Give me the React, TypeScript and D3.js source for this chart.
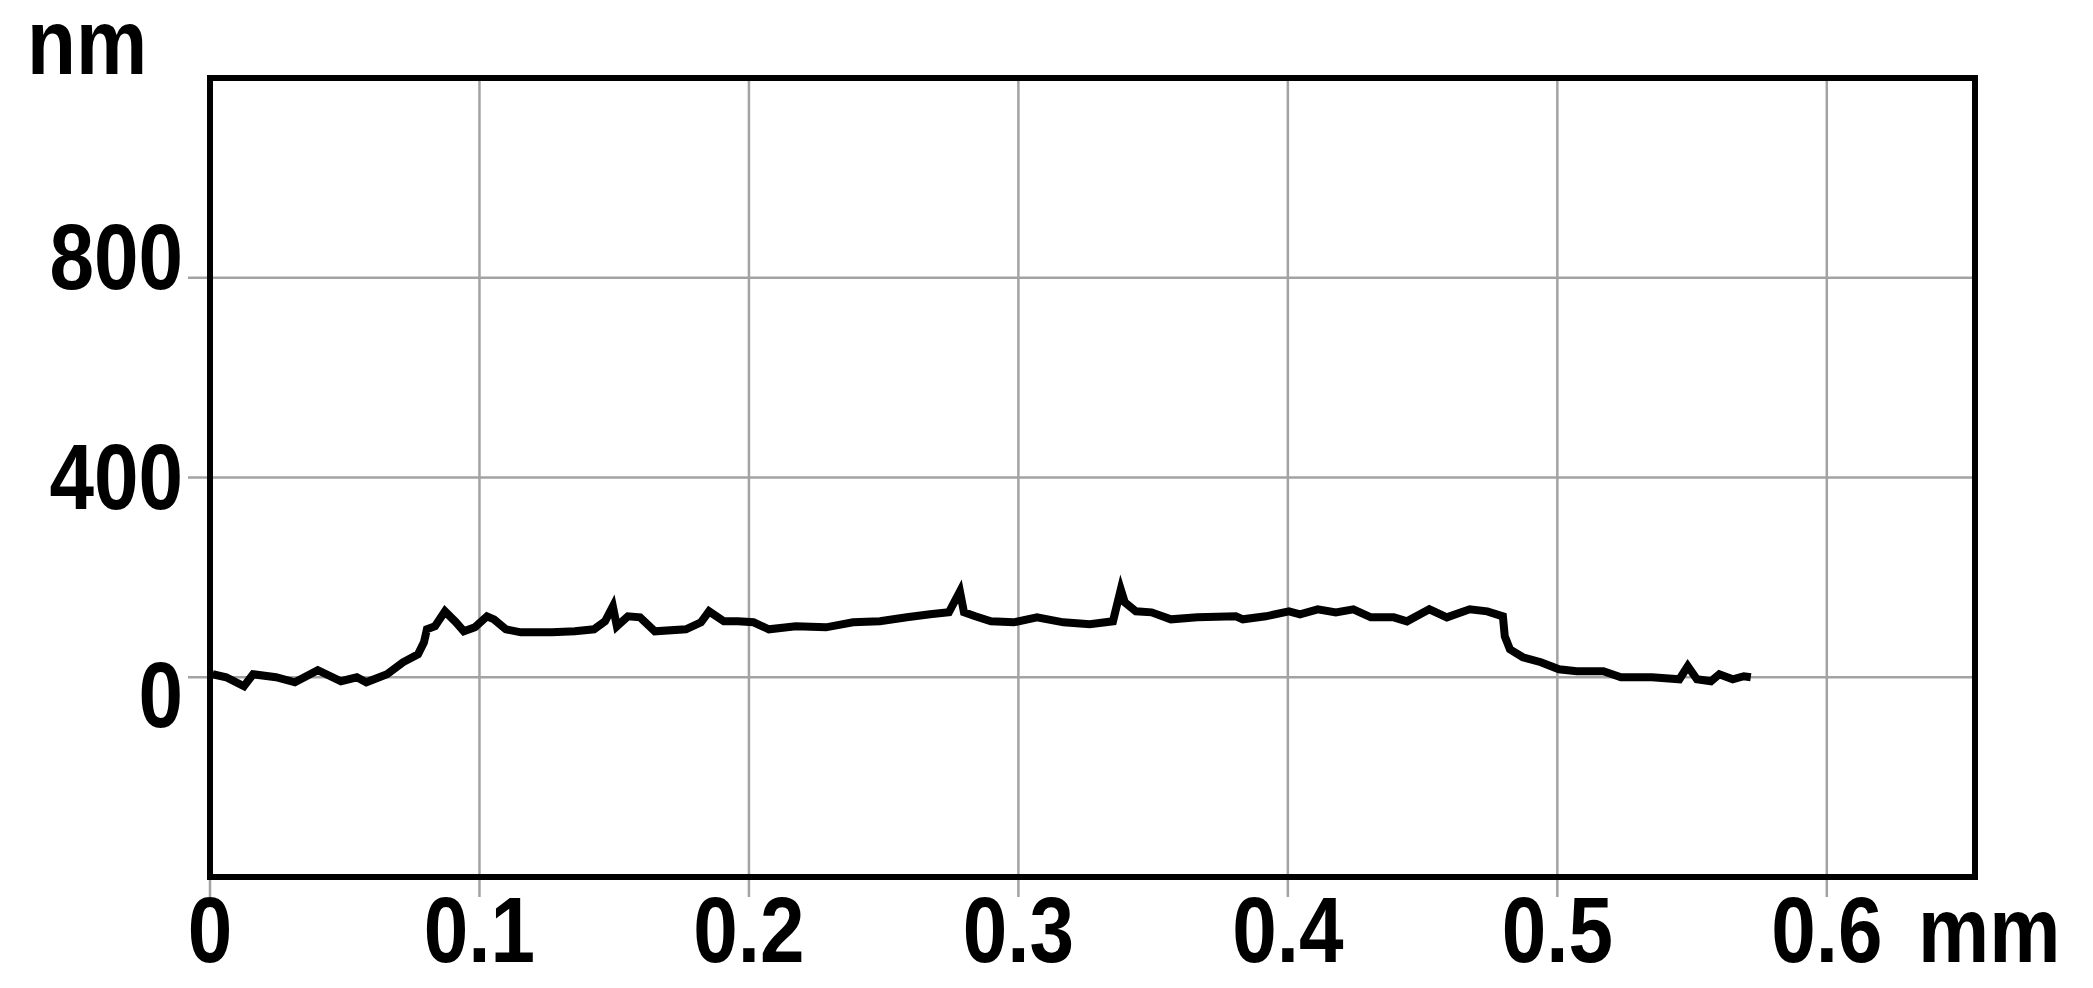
import React from "react";
import * as d3 from "d3";

// profile: position (mm) -> height (nm)
const profileX = [
  0.001, 0.006, 0.0126, 0.016, 0.0245, 0.0315, 0.04, 0.0486, 0.0545, 0.058,
  0.0657, 0.0716, 0.0772, 0.0794, 0.0805, 0.0835, 0.0872, 0.0913, 0.0942, 0.0983,
  0.1028, 0.1054, 0.1098, 0.1154, 0.1269, 0.1354, 0.1425, 0.1466, 0.1495, 0.151,
  0.1551, 0.1596, 0.1651, 0.1766, 0.1822, 0.1852, 0.1907, 0.1959, 0.2017, 0.2074,
  0.2174, 0.2286, 0.2386, 0.2486, 0.2586, 0.2672, 0.2742, 0.2783, 0.2798, 0.284,
  0.2898, 0.2983, 0.3069, 0.3167, 0.3265, 0.3351, 0.338, 0.3395, 0.3436, 0.3494,
  0.3566, 0.3664, 0.3807, 0.3833, 0.3918, 0.4004, 0.4045, 0.4111, 0.4178, 0.4243,
  0.4308, 0.4393, 0.4442, 0.4525, 0.459, 0.4675, 0.474, 0.4798, 0.4805, 0.4824,
  0.4872, 0.4939, 0.5006, 0.5072, 0.5171, 0.5236, 0.5351, 0.5453, 0.5484, 0.5518,
  0.557, 0.5601, 0.5651, 0.5692, 0.5718,
];
const profileY = [
  6, 0, -18, 6, 0, -10, 14, -8, 0, -10,
  6, 30, 46, 70, 96, 102, 132, 110, 92, 100,
  122, 116, 96, 90, 90, 92, 96, 112, 142, 102,
  122, 120, 92, 96, 110, 132, 112, 112, 110, 96,
  102, 100, 110, 112, 120, 126, 130, 172, 130, 122,
  112, 110, 120, 110, 106, 112, 176, 150, 132, 130,
  116, 120, 122, 116, 122, 132, 126, 136, 130, 136,
  120, 120, 112, 136, 120, 136, 132, 122, 82, 56,
  40, 30, 16, 12, 12, 0, 0, -4, 22, -4,
  -8, 6, -4, 2, 0,
];

const xTicks = [0, 0.1, 0.2, 0.3, 0.4, 0.5, 0.6];
const xTickLabels = ["0", "0.1", "0.2", "0.3", "0.4", "0.5", "0.6"];
const yTicks = [0, 400, 800];
const yTickLabels = ["0", "400", "800"];
// the y labels sit a little lower the closer they are to zero
const yLabelNudge = [50, 31, 11];

const W = 2093;
const H = 988;
const margin = { top: 78, right: 118, bottom: 111, left: 210 };
const font = "'Liberation Sans', Arial, sans-serif";
const squeeze = 0.87; // the original labels use a narrow bold face
const grid = "#a3a3a3";

export default function App() {
  const x = d3.scaleLinear().domain([0, 0.655]).range([margin.left, W - margin.right]);
  const y = d3.scaleLinear().domain([-400, 1200]).range([H - margin.bottom, margin.top]);

  const data = profileX.map((v, i) => [v, profileY[i]] as [number, number]);
  const line = d3.line<[number, number]>()
    .x(d => x(d[0]))
    .y(d => y(d[1]));

  const bottom = y(-400);
  const top = y(1200);

  const label = (key: string, tx: number, ty: number, s: string, anchor: string) => (
    <text key={key} transform={`translate(${tx},${ty}) scale(${squeeze},1)`} textAnchor={anchor}>{s}</text>
  );

  return (
    <svg width={W} height={H} style={{ position: "absolute", left: 0, top: 0, background: "#fff" }}>
      {/* grid */}
      {xTicks.slice(1).map(t => (
        <line key={"gx" + t} x1={x(t)} x2={x(t)} y1={top} y2={bottom + 20} stroke={grid} strokeWidth={2.5} />
      ))}
      {yTicks.map(t => (
        <line key={"gy" + t} x1={x(0) - 22} x2={x(0.655)} y1={y(t)} y2={y(t)} stroke={grid} strokeWidth={2.5} />
      ))}
      <line x1={x(0)} x2={x(0)} y1={bottom} y2={bottom + 20} stroke={grid} strokeWidth={2.5} />

      {/* profile */}
      <path d={line(data) ?? ""} fill="none" stroke="#000" strokeWidth={8} strokeLinejoin="miter" />

      {/* frame */}
      <rect x={x(0)} y={top} width={x(0.655) - x(0)} height={bottom - top} fill="none" stroke="#000" strokeWidth={6} />

      {/* labels */}
      <g fontFamily={font} fontWeight="bold" fontSize={92} fill="#000">
        {xTicks.map((t, i) => label("lx" + t, x(t), bottom + 85, xTickLabels[i], "middle"))}
        {yTicks.map((t, i) => label("ly" + t, 183, y(t) + yLabelNudge[i], yTickLabels[i], "end"))}
        {label("mm", 1918, bottom + 85, "mm", "start")}
        {label("nm", 27, 74, "nm", "start")}
      </g>
    </svg>
  );
}
